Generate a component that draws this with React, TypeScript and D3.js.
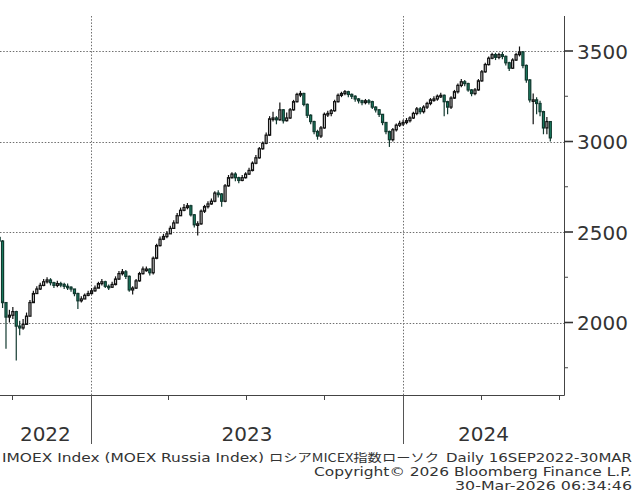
import { useEffect, useRef } from 'react';
import * as d3 from 'd3';

const width = 643;
const height = 497;

// candles every 4 calendar days starting 16 Sep 2022, open = previous close
const startDate = new Date(2022, 8, 16);
const stepDays = 4;
const firstOpen = 2470;

const closes = [
  2450, 2110, 2030, 2040, 2060, 1980, 1970, 1990, 2035, 2110,
  2160, 2185, 2205, 2225, 2235, 2220, 2205, 2215, 2210, 2200,
  2195, 2185, 2160, 2120, 2130, 2150, 2160, 2175, 2190, 2215,
  2225, 2200, 2195, 2210, 2240, 2270, 2280, 2255, 2180, 2190,
  2230, 2270, 2295, 2295, 2275, 2355, 2425, 2460, 2475, 2490,
  2520, 2550, 2590, 2620, 2635, 2645, 2595, 2540, 2545, 2615,
  2640, 2655, 2670, 2715, 2710, 2670, 2755, 2800, 2820, 2800,
  2785, 2800, 2820, 2840, 2880, 2910, 2960, 2990, 3035, 3125,
  3130, 3120, 3175, 3115, 3130, 3175, 3220, 3260, 3265, 3205,
  3145, 3110, 3055, 3030, 3075, 3150, 3155, 3170, 3220, 3255,
  3265, 3275, 3260, 3250, 3235, 3225, 3215, 3225, 3220, 3190,
  3175, 3150, 3105, 3055, 3010, 3065, 3090, 3100, 3105, 3115,
  3130, 3155, 3180, 3165, 3190, 3210, 3230, 3235, 3250, 3255,
  3220, 3190, 3240, 3275, 3310, 3330, 3320, 3285, 3265, 3285,
  3335, 3385, 3425, 3460, 3480, 3465, 3480, 3470, 3435, 3405,
  3450, 3480, 3495, 3420, 3340, 3230, 3230, 3210, 3165, 3075,
  3110, 3020,
];

const highs = [
  2490, 2455, 2110, 2070, 2085, 2065, 2010, 2020, 2055, 2125,
  2175, 2200, 2220, 2240, 2250, 2245, 2225, 2230, 2225, 2220,
  2215, 2200, 2185, 2165, 2145, 2160, 2175, 2190, 2205, 2225,
  2240, 2230, 2210, 2225, 2255, 2285, 2295, 2290, 2260, 2200,
  2240, 2280, 2310, 2310, 2300, 2365, 2435, 2475, 2490, 2505,
  2535, 2565, 2605, 2635, 2655, 2660, 2650, 2600, 2560, 2625,
  2650, 2670, 2685, 2725, 2730, 2715, 2765, 2815, 2830, 2830,
  2805, 2815, 2830, 2855, 2890, 2925, 2970, 3000, 3050, 3140,
  3165, 3140, 3215, 3180, 3160, 3185, 3230, 3270, 3280, 3270,
  3210, 3150, 3115, 3065, 3085, 3160, 3170, 3180, 3230, 3265,
  3275, 3285, 3280, 3265, 3255, 3240, 3230, 3235, 3235, 3225,
  3195, 3180, 3150, 3105, 3060, 3075, 3100, 3115, 3120, 3130,
  3140, 3165, 3190, 3190, 3200, 3220, 3240, 3250, 3260, 3270,
  3260, 3225, 3250, 3285, 3320, 3345, 3340, 3325, 3290, 3295,
  3345, 3395, 3435, 3470, 3490, 3490, 3490, 3495, 3475, 3440,
  3460, 3490, 3525, 3500, 3425, 3345, 3265, 3245, 3225, 3170,
  3135, 3110,
];

const lows = [
  2440, 2080, 1855, 2000, 2020, 1790, 1930, 1960, 1995, 2080,
  2125, 2160, 2180, 2200, 2215, 2205, 2190, 2195, 2195, 2185,
  2180, 2170, 2145, 2075, 2110, 2130, 2145, 2155, 2170, 2190,
  2205, 2190, 2180, 2190, 2205, 2235, 2260, 2240, 2170, 2155,
  2185, 2225, 2265, 2280, 2260, 2265, 2350, 2420, 2455, 2465,
  2490, 2520, 2550, 2590, 2615, 2625, 2585, 2525, 2480, 2540,
  2605, 2630, 2650, 2665, 2690, 2640, 2665, 2750, 2795, 2780,
  2770, 2780, 2795, 2815, 2835, 2875, 2905, 2955, 2985, 3030,
  3110, 3095, 3115, 3100, 3110, 3125, 3170, 3215, 3245, 3195,
  3130, 3095, 3040, 3010, 3020, 3070, 3135, 3140, 3165, 3215,
  3245, 3255, 3245, 3235, 3220, 3210, 3200, 3205, 3205, 3180,
  3160, 3135, 3090, 3040, 2970, 3000, 3055, 3080, 3085, 3095,
  3105, 3125, 3145, 3150, 3155, 3180, 3200, 3220, 3225, 3240,
  3140, 3150, 3180, 3235, 3265, 3300, 3305, 3275, 3250, 3255,
  3280, 3330, 3380, 3420, 3455, 3450, 3455, 3455, 3420, 3390,
  3400, 3445, 3470, 3405, 3325, 3215, 3095, 3150, 3140, 3040,
  3040, 3000,
];

const yTicks = [2000, 2500, 3000, 3500];
const yMinorTicks = [1750, 2250, 2750, 3250];
const years = [2022, 2023, 2024];
const quarterTicks = [
  '2022-10-01', '2023-01-01', '2023-04-01', '2023-07-01',
  '2023-10-01', '2024-01-01', '2024-04-01', '2024-07-01',
];

const footerTitle = 'IMOEX Index (MOEX Russia Index)';
const footerJp = 'ロシアMICEX指数ローソク';
const footerRange = 'Daily 16SEP2022-30MAR';
const footerCopy = 'Copyright© 2026 Bloomberg Finance L.P.';
const footerStamp = '30-Mar-2026 06:34:46';

const App = () => {
  const svgRef = useRef<SVGSVGElement>(null!);

  useEffect(() => {
    const plot = { left: 0, right: 564, top: 16, bottom: 395 };
    const font = '"DejaVu Sans", Verdana, sans-serif';
    const svg = d3.select(svgRef.current);
    svg.selectAll('*').remove();

    const domainStart = new Date(2022, 8, 17);
    const domainEnd = new Date(2024, 6, 7);
    const xScale = d3.scaleTime().domain([domainStart, domainEnd]).range([plot.left, plot.right]);
    const yScale = d3.scaleLinear().domain([2000, 3500]).range([322.5, 51]);

    const candles = closes.map((c, i) => ({
      date: d3.timeDay.offset(startDate, i * stepDays),
      open: i === 0 ? firstOpen : closes[i - 1],
      high: highs[i],
      low: lows[i],
      close: c,
    }));

    svg
      .append('clipPath')
      .attr('id', 'plotClip')
      .append('rect')
      .attr('x', plot.left)
      .attr('y', plot.top)
      .attr('width', plot.right - plot.left)
      .attr('height', plot.bottom - plot.top);

    // dotted grid
    svg
      .append('g')
      .selectAll('line')
      .data(yTicks)
      .enter()
      .append('line')
      .attr('x1', plot.left)
      .attr('x2', plot.right)
      .attr('y1', d => Math.round(yScale(d)) + 0.5)
      .attr('y2', d => Math.round(yScale(d)) + 0.5)
      .attr('stroke', '#6f6f6f')
      .attr('stroke-dasharray', '1.5,1.7');

    const yearStarts = years.slice(1).map(y => new Date(y, 0, 1));
    svg
      .append('g')
      .selectAll('line')
      .data(yearStarts)
      .enter()
      .append('line')
      .attr('x1', d => Math.round(xScale(d)) + 0.5)
      .attr('x2', d => Math.round(xScale(d)) + 0.5)
      .attr('y1', plot.top)
      .attr('y2', plot.bottom)
      .attr('stroke', '#6f6f6f')
      .attr('stroke-dasharray', '1.5,1.7');

    // candles
    const bodyW = 2;
    const g = svg.append('g').attr('clip-path', 'url(#plotClip)');
    const items = g.selectAll('g').data(candles).enter().append('g');
    items
      .append('line')
      .attr('x1', d => xScale(d.date))
      .attr('x2', d => xScale(d.date))
      .attr('y1', d => yScale(Math.max(d.high, d.open, d.close)))
      .attr('y2', d => yScale(Math.min(d.low, d.open, d.close)))
      .attr('stroke', d => (d.close < d.open ? '#12392f' : '#111'))
      .attr('stroke-width', 1.2);
    items
      .append('rect')
      .attr('x', d => xScale(d.date) - bodyW / 2)
      .attr('y', d => yScale(Math.max(d.open, d.close)))
      .attr('width', bodyW)
      .attr('height', d => Math.max(1.5, Math.abs(yScale(d.open) - yScale(d.close))))
      .attr('fill', d => (d.close < d.open ? '#1b8f6f' : '#e8e8e8'))
      .attr('stroke', d => (d.close < d.open ? '#12392f' : '#111'))
      .attr('stroke-width', 1.25);

    // axes frame
    svg
      .append('line')
      .attr('x1', plot.left)
      .attr('x2', plot.right + 0.5)
      .attr('y1', plot.bottom + 0.5)
      .attr('y2', plot.bottom + 0.5)
      .attr('stroke', '#444');
    svg
      .append('line')
      .attr('x1', plot.right + 0.5)
      .attr('x2', plot.right + 0.5)
      .attr('y1', plot.top)
      .attr('y2', plot.bottom + 0.5)
      .attr('stroke', '#444');

    // right axis ticks + labels
    svg
      .append('g')
      .selectAll('line')
      .data(yTicks)
      .enter()
      .append('line')
      .attr('x1', plot.right)
      .attr('x2', plot.right + 9)
      .attr('y1', d => yScale(d))
      .attr('y2', d => yScale(d))
      .attr('stroke', '#333')
      .attr('stroke-width', 1.6);
    svg
      .append('g')
      .selectAll('line')
      .data(yMinorTicks)
      .enter()
      .append('line')
      .attr('x1', plot.right)
      .attr('x2', plot.right + 4)
      .attr('y1', d => yScale(d))
      .attr('y2', d => yScale(d))
      .attr('stroke', '#444');
    svg
      .append('g')
      .selectAll('text')
      .data(yTicks)
      .enter()
      .append('text')
      .attr('x', plot.right + 13)
      .attr('y', d => yScale(d) + 7.5)
      .attr('font-family', font)
      .attr('font-size', 20)
      .attr('fill', '#333')
      .text(d => String(d));

    // bottom axis: quarter ticks, year separators, year labels
    svg
      .append('g')
      .selectAll('line')
      .data(quarterTicks.map(s => new Date(s + 'T00:00:00')))
      .enter()
      .append('line')
      .attr('x1', d => Math.round(xScale(d)) + 0.5)
      .attr('x2', d => Math.round(xScale(d)) + 0.5)
      .attr('y1', plot.bottom)
      .attr('y2', plot.bottom + 5)
      .attr('stroke', '#444');
    svg
      .append('g')
      .selectAll('line')
      .data(yearStarts)
      .enter()
      .append('line')
      .attr('x1', d => Math.round(xScale(d)) + 0.5)
      .attr('x2', d => Math.round(xScale(d)) + 0.5)
      .attr('y1', plot.bottom)
      .attr('y2', plot.bottom + 49)
      .attr('stroke', '#555');
    svg
      .append('g')
      .selectAll('text')
      .data(years)
      .enter()
      .append('text')
      .attr('x', y => {
        const a = Math.max(xScale(new Date(y, 0, 1)), plot.left);
        const b = Math.min(xScale(new Date(y + 1, 0, 1)), plot.right);
        return (a + b) / 2;
      })
      .attr('y', 441)
      .attr('text-anchor', 'middle')
      .attr('font-family', font)
      .attr('font-size', 20)
      .attr('fill', '#333')
      .text(y => String(y));

    // footer
    const foot = svg
      .append('g')
      .attr('font-family', font)
      .attr('font-size', 12)
      .attr('fill', '#333');
    const line1 = foot.append('text').attr('y', 461.5);
    line1.append('tspan').attr('x', 2).attr('textLength', 262).attr('lengthAdjust', 'spacingAndGlyphs').text(footerTitle);
    line1
      .append('tspan')
      .attr('x', 269)
      .attr('font-family', '"Noto Sans CJK JP", sans-serif')
      .attr('font-size', 11.5)
      .attr('textLength', 170)
      .attr('lengthAdjust', 'spacingAndGlyphs')
      .text(footerJp);
    line1.append('tspan').attr('x', 446).attr('textLength', 186).attr('lengthAdjust', 'spacingAndGlyphs').text(footerRange);
    foot.append('text').attr('x', 632).attr('y', 475.5).attr('text-anchor', 'end').attr('textLength', 318).attr('lengthAdjust', 'spacingAndGlyphs').text(footerCopy);
    foot.append('text').attr('x', 632).attr('y', 490).attr('text-anchor', 'end').attr('textLength', 177).attr('lengthAdjust', 'spacingAndGlyphs').text(footerStamp);

    return () => {
      svgRef.current.innerHTML = '';
    };
  }, []);

  return (
    <svg
      ref={svgRef}
      width={width}
      height={height}
      style={{ position: 'absolute', left: 0, top: 0, background: '#fff' }}
    ></svg>
  );
};

export default App;
